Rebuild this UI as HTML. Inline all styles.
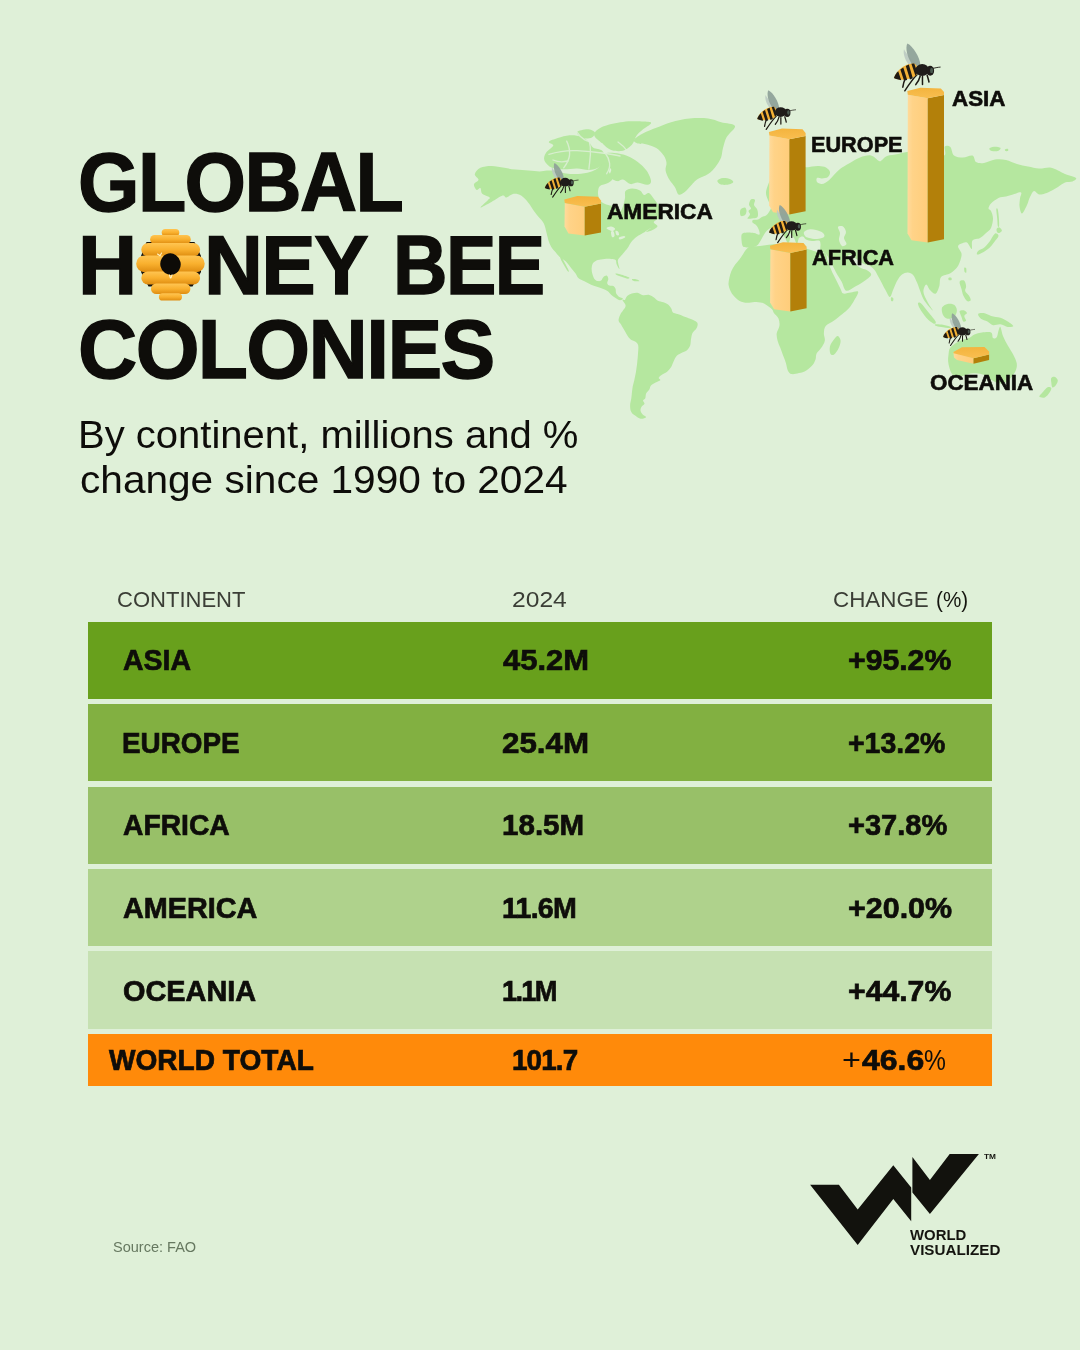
<!DOCTYPE html>
<html lang="en"><head><meta charset="utf-8"><title>Global Honey Bee Colonies</title>
<style>
html,body,h1,p{margin:0;padding:0;font-weight:normal;font-size:16px}
body{width:1080px;height:1350px;position:relative;overflow:hidden;background:#dff0d8;font-family:"Liberation Sans",Arial,sans-serif}
.t{position:absolute;white-space:nowrap;line-height:1;transform-origin:0 50%;display:block}
.row{position:absolute;left:88px;width:904px;height:77.2px}
svg.art{position:absolute;left:0;top:0}
</style></head><body>
<svg class="art" width="1080" height="1350" viewBox="0 0 1080 1350">
<g fill="#b5e79f">
<path d="M474.8,174.3C475.1,172.3 477.6,169.2 480.4,167.8C483.1,166.4 487.5,165.9 491.5,165.9C495.5,165.9 500.4,167.2 504.4,167.8C508.5,168.4 511.5,169.2 515.6,169.6C519.6,170.1 524.5,170.2 528.5,170.6C532.5,170.9 536.5,171.5 539.6,171.5C542.7,171.5 544.3,170.6 547.0,170.6C549.8,170.5 552.8,170.5 556.0,171.0C559.2,171.5 562.3,173.0 566.0,173.5C569.7,174.0 574.0,174.2 578.0,174.0C582.0,173.8 586.7,173.0 590.0,172.0C593.3,171.0 595.8,169.7 598.0,168.0C600.2,166.3 601.3,163.3 603.0,162.0C604.7,160.7 606.7,159.3 608.0,160.0C609.3,160.7 610.8,164.0 611.0,166.0C611.2,168.0 608.7,170.0 609.0,172.0C609.3,174.0 613.2,176.2 613.0,178.0C612.8,179.8 610.2,181.7 608.0,183.0C605.8,184.3 601.7,184.5 600.0,186.0C598.3,187.5 598.2,190.0 598.0,192.0C597.8,194.0 598.2,196.2 599.0,198.0C599.8,199.8 601.2,201.8 603.0,203.0C604.8,204.2 607.7,204.9 610.0,205.5C612.3,206.1 615.3,205.4 617.0,206.5C618.7,207.6 619.0,212.1 620.0,212.0C621.0,211.9 622.2,208.3 623.0,206.0C623.8,203.7 624.6,200.5 625.0,198.0C625.4,195.5 624.3,192.6 625.5,191.0C626.7,189.4 629.6,188.6 632.0,188.5C634.4,188.4 638.0,189.4 640.0,190.5C642.0,191.6 642.5,194.6 644.0,195.0C645.5,195.4 647.3,192.3 649.0,193.0C650.7,193.7 652.3,196.8 654.0,199.0C655.7,201.2 657.7,203.8 659.0,206.0C660.3,208.2 661.2,211.1 662.0,212.0C662.8,212.9 664.1,210.3 663.8,211.2C663.4,212.2 661.7,215.7 660.0,217.5C658.3,219.3 654.2,220.5 653.8,222.0C653.3,223.5 657.7,224.9 657.5,226.2C657.3,227.6 654.4,229.0 652.5,230.0C650.6,231.0 646.5,232.4 646.2,232.0C646.0,231.6 651.4,227.7 651.1,227.8C650.8,227.8 646.9,230.7 644.4,232.2C642.0,233.7 638.9,235.0 636.7,236.7C634.4,238.3 632.6,240.4 631.1,242.2C629.6,244.1 629.1,245.9 627.8,247.8C626.5,249.6 624.7,251.7 623.3,253.3C621.9,255.0 620.4,256.5 619.4,257.8C618.5,259.1 617.8,259.3 617.8,261.1C617.8,263.0 619.6,268.3 619.4,268.9C619.3,269.4 617.3,265.9 616.7,264.4C616.0,263.0 616.5,260.9 615.6,260.0C614.6,259.1 613.0,259.1 611.1,258.9C609.3,258.7 606.7,258.7 604.4,258.9C602.2,259.1 599.6,259.4 597.8,260.0C595.9,260.6 594.4,261.5 593.3,262.8C592.3,264.1 591.9,266.0 591.7,267.8C591.5,269.5 591.8,271.5 592.2,273.3C592.7,275.2 593.5,277.6 594.4,278.9C595.4,280.2 596.7,280.8 597.8,281.1C598.9,281.4 600.2,281.2 601.1,280.6C602.0,279.9 602.4,278.1 603.3,277.2C604.3,276.4 605.8,275.3 606.7,275.6C607.5,275.8 608.2,277.6 608.3,278.9C608.4,280.2 607.0,282.2 607.2,283.3C607.4,284.4 608.4,285.1 609.4,285.6C610.5,286.0 612.3,285.6 613.3,286.1C614.4,286.7 615.1,287.7 615.6,288.9C616.0,290.1 615.6,292.0 616.1,293.3C616.7,294.6 617.8,295.8 618.9,296.7C620.0,297.5 622.6,297.7 622.8,298.3C623.0,298.9 621.2,300.3 620.0,300.2C618.8,300.2 617.0,298.9 615.6,298.0C614.1,297.1 612.4,295.8 611.1,294.7C609.8,293.6 609.1,292.3 607.8,291.3C606.5,290.4 605.0,289.9 603.3,289.1C601.7,288.4 599.8,287.6 597.8,286.9C595.7,286.1 593.3,285.6 591.1,284.7C588.9,283.7 586.6,282.4 584.4,281.3C582.3,280.2 579.8,279.3 578.3,278.0C576.9,276.7 576.8,275.2 575.6,273.6C574.4,271.9 572.8,270.0 571.1,268.0C569.4,266.0 567.5,263.2 565.6,261.3C563.6,259.4 561.1,258.2 559.4,256.7C557.8,255.1 556.9,253.9 555.6,252.2C554.2,250.6 552.3,248.7 551.1,246.7C549.9,244.6 549.1,242.4 548.3,240.0C547.6,237.6 547.2,235.0 546.4,232.2C545.7,229.4 544.9,225.7 543.7,223.3C542.5,220.9 540.9,219.8 539.3,217.8C537.7,215.8 535.9,213.8 534.1,211.3C532.3,208.8 530.7,205.6 528.5,203.0C526.4,200.3 523.6,197.1 521.1,195.6C518.6,194.0 516.2,193.4 513.7,193.7C511.2,194.0 508.1,197.1 506.3,197.4C504.4,197.7 505.1,194.8 502.6,195.6C500.1,196.3 495.2,200.0 491.5,202.0C487.8,204.0 481.0,207.9 480.4,207.6C479.8,207.3 486.2,201.9 487.8,200.2C489.3,198.5 490.6,198.5 489.6,197.4C488.7,196.3 483.8,195.2 482.2,193.7C480.7,192.2 481.3,188.8 480.4,188.1C479.4,187.5 477.7,190.6 476.7,190.0C475.6,189.4 473.6,186.1 473.9,184.4C474.2,182.7 478.4,181.5 478.5,179.8C478.7,178.1 474.5,176.3 474.8,174.3Z"/>
<path d="M560.3,256.9C560.6,256.7 561.4,257.3 562.2,258.3C563.0,259.4 563.9,261.3 565.0,263.3C566.1,265.4 568.2,269.2 568.7,270.6C569.1,271.9 568.6,272.3 567.8,271.3C567.0,270.4 565.0,267.0 563.9,265.0C562.7,263.0 561.5,260.8 560.9,259.4C560.3,258.1 560.1,257.1 560.3,256.9Z"/>
<path d="M544.4,160.4C543.5,157.9 544.4,155.4 545.9,153.0C547.4,150.5 552.8,147.4 553.3,145.6C553.8,143.7 548.1,143.1 548.9,141.9C549.6,140.6 554.3,139.3 557.8,138.1C561.2,137.0 565.7,135.4 569.6,135.2C573.6,134.9 578.3,135.6 581.5,136.7C584.7,137.8 586.9,140.0 588.9,141.9C590.9,143.7 591.1,146.3 593.3,147.8C595.6,149.3 600.2,148.9 602.2,150.7C604.2,152.6 605.7,156.2 605.2,158.9C604.7,161.6 602.0,165.2 599.3,167.0C596.5,168.9 592.6,169.8 588.9,170.0C585.2,170.2 581.2,168.6 577.0,168.5C572.8,168.4 567.9,169.4 563.7,169.3C559.5,169.1 555.1,169.3 551.9,167.8C548.6,166.3 545.4,162.8 544.4,160.4Z"/>
<path d="M577.0,132.2C577.8,130.7 584.4,129.3 587.4,129.3C590.4,129.3 594.1,130.9 594.8,132.2C595.6,133.6 593.8,136.4 591.9,137.4C589.9,138.4 585.4,139.0 583.0,138.1C580.5,137.3 576.3,133.7 577.0,132.2Z"/>
<path d="M594.1,134.4C594.3,131.6 598.9,128.4 603.7,126.3C608.5,124.2 616.3,122.6 623.0,121.9C629.6,121.1 639.0,121.3 643.7,121.6C648.4,121.8 651.4,121.9 651.1,123.3C650.9,124.7 644.7,127.9 642.2,130.0C639.8,132.1 638.0,133.5 636.3,135.9C634.6,138.4 634.1,142.3 631.9,144.8C629.6,147.3 626.4,149.9 623.0,150.7C619.5,151.6 614.6,151.2 611.1,150.0C607.7,148.8 605.1,145.9 602.2,143.3C599.4,140.7 593.8,137.3 594.1,134.4Z"/>
<path d="M603.7,154.4C605.2,152.7 610.1,152.7 614.1,153.0C618.0,153.2 623.5,154.4 627.4,155.9C631.4,157.4 634.6,159.4 637.8,161.9C641.0,164.3 644.4,167.5 646.7,170.7C648.9,174.0 651.0,178.8 651.1,181.1C651.2,183.5 649.6,184.6 647.4,184.8C645.2,185.1 640.6,182.7 637.8,182.6C634.9,182.5 632.8,184.6 630.4,184.1C627.9,183.6 625.2,180.1 623.0,179.6C620.7,179.1 619.3,181.6 617.0,181.1C614.8,180.6 610.6,178.6 609.6,176.7C608.6,174.7 611.9,171.5 611.1,169.3C610.4,167.0 606.4,165.8 605.2,163.3C604.0,160.9 602.2,156.2 603.7,154.4Z"/>
<path d="M634.1,139.8C635.0,138.1 639.6,135.3 643.3,133.3C647.0,131.3 651.7,129.6 656.3,127.8C660.9,125.9 665.6,123.8 671.1,122.2C676.7,120.7 683.5,119.1 689.6,118.5C695.8,117.9 702.9,117.9 708.1,118.5C713.4,119.1 716.6,121.0 721.1,122.2C725.6,123.5 734.1,123.5 735.0,125.9C735.9,128.4 728.7,133.3 726.7,137.0C724.7,140.7 723.9,144.8 723.0,148.1C722.0,151.5 722.3,154.3 721.1,157.4C719.9,160.5 717.7,163.9 715.6,166.7C713.4,169.4 711.2,171.9 708.1,174.1C705.1,176.2 700.1,177.5 697.0,179.6C694.0,181.8 691.8,184.9 689.6,187.0C687.5,189.2 685.9,191.4 684.1,192.6C682.2,193.8 680.1,195.4 678.5,194.4C677.0,193.5 676.4,189.5 674.8,187.0C673.3,184.6 670.8,182.4 669.3,179.6C667.7,176.9 666.0,173.1 665.6,170.4C665.1,167.6 666.8,165.4 666.5,163.0C666.2,160.5 665.4,158.0 663.7,155.6C662.0,153.1 659.1,150.0 656.3,148.1C653.5,146.3 650.1,145.2 647.0,144.4C644.0,143.7 639.9,144.3 637.8,143.5C635.6,142.7 633.1,141.5 634.1,139.8Z"/>
<path d="M717.4,180.6C717.9,179.5 720.8,178.4 723.0,178.1C725.1,177.9 728.7,178.5 730.4,179.3C732.1,180.0 733.8,181.5 733.1,182.4C732.5,183.3 728.8,184.5 726.7,184.8C724.5,185.1 721.7,185.0 720.2,184.3C718.6,183.5 716.9,181.6 717.4,180.6Z"/>
<path d="M615.6,273.6C616.1,273.4 618.3,273.8 620.0,274.2C621.7,274.6 624.0,275.5 625.6,276.1C627.1,276.7 629.1,277.4 629.4,277.8C629.8,278.2 629.0,278.8 627.8,278.7C626.6,278.5 624.1,277.5 622.2,276.9C620.4,276.3 617.8,275.6 616.7,275.0C615.6,274.4 615.0,273.7 615.6,273.6Z"/>
<path d="M632.2,279.1C632.9,278.9 635.5,279.1 636.7,279.4C637.9,279.7 639.6,280.6 639.4,280.9C639.3,281.2 636.7,281.4 635.6,281.3C634.4,281.3 633.3,280.9 632.8,280.6C632.2,280.2 631.6,279.3 632.2,279.1Z"/>
<path d="M622.5,299.9C622.4,299.0 624.1,300.6 624.9,299.9C625.6,299.3 626.0,297.0 627.2,296.0C628.4,294.9 630.2,294.1 631.9,293.6C633.6,293.1 635.6,292.6 637.5,292.8C639.3,293.1 641.0,294.8 643.0,295.2C644.9,295.5 647.4,294.5 649.3,294.9C651.1,295.3 652.5,296.6 654.0,297.5C655.4,298.5 656.3,299.9 657.9,300.7C659.5,301.5 661.7,301.6 663.4,302.3C665.1,302.9 666.8,303.6 668.1,304.6C669.5,305.7 670.5,307.3 671.3,308.6C672.1,309.9 671.8,311.6 672.9,312.5C673.9,313.4 675.8,313.4 677.6,314.1C679.4,314.7 681.8,315.6 683.9,316.4C686.0,317.2 688.0,317.7 690.2,318.8C692.4,319.8 696.2,321.2 697.3,322.7C698.3,324.3 697.3,326.5 696.5,328.2C695.7,329.9 693.5,331.1 692.5,333.0C691.6,334.8 691.4,337.2 691.0,339.3C690.6,341.4 690.8,343.7 690.2,345.6C689.5,347.4 688.3,349.1 687.0,350.3C685.7,351.5 684.0,351.7 682.3,352.6C680.6,353.6 678.2,354.3 676.8,355.8C675.4,357.2 674.6,359.5 673.7,361.3C672.7,363.1 672.3,365.1 671.3,366.8C670.2,368.5 668.9,370.2 667.4,371.5C665.8,372.8 663.3,373.6 661.9,374.7C660.4,375.7 659.0,376.9 658.7,377.8C658.4,378.7 660.8,379.4 660.3,380.2C659.8,381.0 657.1,381.6 655.6,382.5C654.0,383.5 651.9,384.5 650.8,385.7C649.8,386.9 650.0,388.3 649.3,389.6C648.5,390.9 646.8,392.1 646.1,393.6C645.5,395.0 645.8,397.1 645.3,398.3C644.8,399.5 643.1,399.7 643.0,400.6C642.8,401.6 644.8,402.7 644.5,403.8C644.3,404.8 642.0,405.8 641.4,406.9C640.7,408.1 640.3,409.6 640.6,410.9C640.9,412.2 642.0,413.8 643.0,414.8C643.9,415.9 646.5,416.5 646.1,417.2C645.7,417.8 642.4,419.0 640.6,418.7C638.8,418.5 636.7,416.8 635.1,415.6C633.5,414.4 632.0,413.4 631.2,411.7C630.3,410.0 630.1,407.5 630.1,405.4C630.1,403.3 630.8,401.2 631.2,399.1C631.5,397.0 631.7,394.9 631.9,392.8C632.2,390.7 632.3,388.6 632.7,386.5C633.1,384.4 633.8,382.5 634.3,380.2C634.8,377.8 635.4,374.9 635.9,372.3C636.3,369.7 636.6,367.3 637.0,364.4C637.3,361.6 637.7,358.1 637.9,355.0C638.1,351.9 638.7,347.8 638.2,345.6C637.8,343.3 636.4,342.7 635.1,341.6C633.8,340.6 631.7,340.3 630.4,339.3C629.1,338.2 628.3,336.9 627.2,335.3C626.2,333.7 625.1,331.7 624.1,329.8C623.0,328.0 621.8,325.9 620.9,324.3C620.0,322.7 618.7,321.9 618.6,320.4C618.4,318.8 619.4,316.6 620.1,314.9C620.9,313.2 622.4,311.7 623.3,310.1C624.2,308.6 625.8,307.1 625.6,305.4C625.5,303.7 622.6,300.8 622.5,299.9Z"/>
<path d="M748.0,247.8C750.1,246.5 753.7,246.7 756.3,246.3C758.9,245.9 761.2,245.7 763.7,245.4C766.2,245.1 767.7,244.7 771.1,244.4C774.5,244.2 779.8,243.9 784.1,244.1C788.4,244.2 793.3,244.6 797.0,245.4C800.7,246.1 803.5,247.6 806.3,248.5C809.1,249.4 811.2,250.2 813.7,250.9C816.2,251.6 819.1,252.3 821.1,252.8C823.1,253.2 824.7,252.3 825.7,253.7C826.8,255.1 826.5,258.0 827.6,261.1C828.7,264.2 830.7,268.8 832.2,272.2C833.8,275.6 835.5,278.7 836.9,281.5C838.2,284.3 839.5,286.9 840.6,288.9C841.6,290.9 841.6,292.9 843.3,293.5C845.0,294.1 848.3,292.9 850.7,292.6C853.2,292.3 857.5,290.4 858.1,291.7C858.8,292.9 856.0,297.2 854.4,300.0C852.9,302.8 850.9,306.0 848.9,308.3C846.9,310.6 844.9,311.9 842.4,313.9C839.9,315.9 836.9,318.4 834.1,320.4C831.3,322.4 827.4,323.8 825.7,325.9C824.0,328.1 824.0,330.9 823.9,333.3C823.7,335.8 825.3,338.3 824.8,340.7C824.4,343.2 822.5,346.0 821.1,348.1C819.7,350.3 817.4,351.9 816.5,353.7C815.6,355.6 816.2,357.4 815.6,359.3C814.9,361.1 814.3,363.0 812.8,364.8C811.2,366.7 808.6,369.0 806.3,370.4C804.0,371.8 801.4,372.5 798.9,373.1C796.4,373.8 793.3,374.5 791.5,374.1C789.6,373.6 788.7,372.2 787.8,370.4C786.9,368.5 786.7,365.4 785.9,363.0C785.2,360.5 784.1,358.0 783.1,355.6C782.2,353.1 781.3,350.6 780.4,348.1C779.4,345.7 778.2,343.2 777.6,340.7C777.0,338.3 776.4,335.8 776.7,333.3C777.0,330.9 779.1,328.4 779.4,325.9C779.8,323.5 779.4,320.7 778.5,318.5C777.6,316.4 775.0,314.5 773.9,313.0C772.8,311.4 773.4,310.6 772.0,309.3C770.6,307.9 767.3,305.7 765.6,304.6C763.9,303.5 763.7,303.2 761.9,302.8C760.0,302.3 756.9,301.9 754.4,301.9C752.0,301.9 749.5,302.9 747.0,302.8C744.6,302.6 741.8,302.0 739.6,300.9C737.5,299.8 735.6,298.0 734.1,296.3C732.5,294.6 731.3,292.7 730.4,290.7C729.4,288.7 728.7,286.4 728.5,284.3C728.4,282.1 729.0,279.9 729.4,277.8C729.9,275.6 730.4,273.5 731.3,271.3C732.2,269.1 733.6,266.8 735.0,264.8C736.4,262.8 738.2,261.1 739.6,259.3C741.0,257.4 741.9,255.6 743.3,253.7C744.7,251.8 745.8,249.0 748.0,247.8Z"/>
<path d="M837.8,336.1C838.9,336.3 840.4,338.7 840.6,340.7C840.7,342.7 839.8,345.8 838.7,348.1C837.6,350.5 835.5,353.7 834.1,354.6C832.7,355.6 831.0,355.1 830.4,353.7C829.7,352.3 829.4,348.6 830.0,346.3C830.6,344.0 832.4,341.5 833.7,339.8C835.0,338.1 836.6,336.0 837.8,336.1Z"/>
<path d="M748.0,247.5C746.7,247.2 744.1,247.8 743.0,246.5C741.9,245.2 741.7,242.1 741.5,240.0C741.3,237.9 741.1,235.2 742.0,234.0C742.9,232.8 745.0,232.7 747.0,232.5C749.0,232.3 751.9,232.7 754.0,233.0C756.1,233.3 758.8,235.2 759.5,234.5C760.2,233.8 759.1,230.6 758.5,229.0C757.9,227.4 757.0,226.1 756.0,225.0C755.0,223.9 753.0,223.3 752.5,222.5C752.0,221.7 752.1,220.5 753.0,220.0C753.9,219.5 756.5,220.0 758.0,219.5C759.5,219.0 760.7,217.7 762.0,217.0C763.3,216.3 764.8,216.3 766.0,215.5C767.2,214.7 768.2,213.2 769.0,212.0C769.8,210.8 770.8,209.3 771.0,208.0C771.2,206.7 770.5,205.3 770.0,204.0C769.5,202.7 768.7,201.8 768.0,200.0C767.3,198.2 766.0,195.5 766.0,193.0C766.0,190.5 766.8,188.0 768.0,185.0C769.2,182.0 770.8,178.2 773.0,175.0C775.2,171.8 778.2,168.3 781.0,166.0C783.8,163.7 787.0,161.7 790.0,161.0C793.0,160.3 796.5,161.0 799.0,162.0C801.5,163.0 802.8,166.2 805.0,167.0C807.2,167.8 809.7,166.7 812.0,166.5C814.3,166.3 816.7,165.8 819.0,166.0C821.3,166.2 824.2,166.5 826.0,167.5C827.8,168.5 829.7,170.4 830.0,172.0C830.3,173.6 829.3,175.9 828.0,177.0C826.7,178.1 823.8,178.3 822.0,178.5C820.2,178.7 817.8,177.4 817.0,178.0C816.2,178.6 816.2,181.0 817.0,182.0C817.8,183.0 820.2,184.2 822.0,184.0C823.8,183.8 826.2,182.3 828.0,181.0C829.8,179.7 831.0,178.0 833.0,176.0C835.0,174.0 837.3,171.1 840.0,169.0C842.7,166.9 845.7,165.4 849.0,163.5C852.3,161.6 856.3,158.8 860.0,157.5C863.7,156.2 867.8,154.9 871.0,155.5C874.2,156.1 877.2,160.2 879.0,161.0C880.8,161.8 880.7,160.8 882.0,160.0C883.3,159.2 884.3,157.0 887.0,156.0C889.7,155.0 894.7,154.7 898.0,154.0C901.3,153.3 902.3,152.7 907.0,152.0C911.7,151.3 919.8,149.4 926.0,150.0C932.2,150.6 940.9,156.1 944.0,155.5C947.1,154.9 943.7,147.9 944.8,146.5C945.9,145.1 948.9,145.5 950.4,147.0C951.9,148.5 951.9,153.8 954.0,155.5C956.1,157.2 959.9,157.5 963.0,157.5C966.1,157.5 970.3,154.8 972.5,155.5C974.7,156.2 974.1,160.8 976.0,162.0C977.9,163.2 980.8,163.4 984.0,163.0C987.2,162.6 991.3,160.0 995.0,159.5C998.7,159.0 1002.3,159.2 1006.0,160.0C1009.7,160.8 1013.3,162.9 1017.0,164.0C1020.7,165.1 1024.3,165.8 1028.0,166.5C1031.7,167.2 1035.3,168.3 1039.0,168.5C1042.7,168.7 1046.8,167.2 1050.0,167.5C1053.2,167.8 1055.5,169.4 1058.0,170.5C1060.5,171.6 1062.0,172.8 1065.0,174.0C1068.0,175.2 1074.8,176.8 1076.0,178.0C1077.2,179.2 1074.3,180.8 1072.5,181.5C1070.7,182.2 1067.4,181.6 1065.0,182.5C1062.6,183.4 1060.2,185.7 1058.0,187.0C1055.8,188.3 1054.2,189.4 1052.0,190.5C1049.8,191.6 1047.2,192.8 1045.0,193.5C1042.8,194.2 1040.8,194.9 1039.0,194.5C1037.2,194.1 1035.5,190.6 1034.0,191.0C1032.5,191.4 1031.2,194.7 1030.0,197.0C1028.8,199.3 1028.3,202.2 1027.0,205.0C1025.7,207.8 1023.2,213.3 1022.0,213.5C1020.8,213.7 1019.8,208.5 1019.5,206.0C1019.2,203.5 1019.8,200.8 1020.0,198.5C1020.2,196.2 1022.2,193.2 1021.0,192.5C1019.8,191.8 1015.5,193.8 1013.0,194.5C1010.5,195.2 1008.4,195.9 1006.0,196.5C1003.6,197.1 1001.0,196.8 998.5,198.0C996.0,199.2 992.7,201.8 991.0,203.5C989.3,205.2 988.5,207.2 988.5,208.5C988.5,209.8 990.2,209.3 991.0,211.0C991.8,212.7 993.0,215.7 993.0,218.5C993.0,221.3 992.2,225.5 991.0,228.0C989.8,230.5 987.3,231.8 985.5,233.5C983.7,235.2 982.2,236.8 980.0,238.0C977.8,239.2 973.9,238.7 972.5,240.5C971.1,242.3 972.6,248.7 971.7,249.0C970.8,249.3 968.7,243.4 967.0,242.5C965.3,241.6 963.0,242.8 961.5,243.5C960.0,244.2 958.0,244.8 958.0,246.5C958.0,248.2 961.1,251.2 961.5,253.5C961.9,255.8 961.2,257.7 960.5,260.0C959.8,262.3 958.7,265.3 957.0,267.5C955.3,269.7 953.0,271.7 950.4,273.3C947.8,274.9 943.0,274.8 941.1,277.0C939.2,279.2 940.2,283.5 939.3,286.3C938.4,289.1 937.1,293.1 935.6,293.7C934.1,294.3 931.5,291.6 930.0,290.0C928.5,288.4 927.4,284.4 926.3,284.4C925.2,284.4 923.8,288.1 923.5,290.0C923.2,291.9 923.6,293.4 924.4,295.6C925.2,297.8 926.7,300.5 928.1,303.0C929.5,305.5 932.6,309.8 932.8,310.4C933.0,311.0 930.6,308.5 929.1,306.7C927.6,304.9 925.0,302.1 923.5,299.3C922.0,296.5 920.9,292.8 919.8,290.0C918.7,287.2 918.1,285.1 917.0,282.6C915.9,280.1 914.8,276.9 913.3,275.2C911.8,273.5 909.7,272.6 907.8,272.5C905.9,272.4 903.8,273.1 902.0,274.5C900.2,275.9 898.4,278.6 897.0,281.0C895.6,283.4 894.7,286.3 893.5,289.0C892.3,291.7 891.2,296.5 890.0,297.0C888.8,297.5 887.8,294.2 886.5,292.0C885.2,289.8 883.4,286.2 882.0,283.5C880.6,280.8 879.2,278.2 878.0,276.0C876.8,273.8 876.1,272.1 875.0,270.5C873.9,268.9 872.4,267.6 871.1,266.7C869.8,265.8 868.8,265.5 867.4,265.0C866.0,264.5 864.7,264.4 863.0,263.5C861.3,262.6 859.0,260.9 857.0,259.5C855.0,258.1 852.5,255.6 851.0,255.0C849.5,254.4 848.0,255.0 848.0,256.0C848.0,257.0 849.5,259.4 851.0,261.0C852.5,262.6 855.2,264.2 857.0,265.5C858.8,266.8 860.3,267.7 862.0,268.5C863.7,269.3 865.9,269.3 867.4,270.4C868.9,271.5 871.7,273.1 871.1,275.0C870.5,276.9 866.5,279.5 863.7,281.5C860.9,283.5 857.3,285.5 854.4,287.0C851.5,288.5 848.2,291.6 846.1,290.7C844.0,289.8 843.2,284.6 841.5,281.5C839.8,278.4 837.8,275.6 835.9,272.2C834.0,268.8 832.1,264.2 830.4,261.1C828.7,258.0 827.4,255.4 825.7,253.7C824.1,252.0 821.4,252.6 820.5,251.0C819.6,249.4 820.8,245.8 820.5,244.0C820.2,242.2 820.4,241.0 819.0,240.5C817.6,240.0 814.2,241.2 812.0,241.0C809.8,240.8 807.5,240.2 806.0,239.5C804.5,238.8 804.2,236.8 803.0,236.5C801.8,236.2 800.0,236.8 799.0,238.0C798.0,239.2 797.8,244.0 797.0,244.0C796.2,244.0 795.2,239.8 794.0,238.0C792.8,236.2 791.3,234.3 790.0,233.0C788.7,231.7 786.0,229.3 786.0,230.0C786.0,230.7 789.7,234.8 790.0,237.0C790.3,239.2 789.0,243.2 788.0,243.0C787.0,242.8 785.5,238.2 784.0,236.0C782.5,233.8 780.7,231.5 779.0,230.0C777.3,228.5 775.7,227.2 774.0,227.0C772.3,226.8 770.5,228.0 769.0,229.0C767.5,230.0 766.3,231.2 765.0,233.0C763.7,234.8 762.3,237.9 761.0,240.0C759.7,242.1 758.7,244.2 757.0,245.5C755.3,246.8 752.5,247.7 751.0,248.0C749.5,248.3 749.3,247.8 748.0,247.5Z"/>
<path d="M751.0,199.5C752.0,198.8 754.5,199.1 755.0,200.0C755.5,200.9 753.7,203.5 754.0,205.0C754.3,206.5 756.3,207.5 757.0,209.0C757.7,210.5 758.0,212.6 758.0,214.0C758.0,215.4 758.0,216.8 757.0,217.5C756.0,218.2 753.6,218.3 752.0,218.5C750.4,218.7 747.8,219.2 747.5,218.5C747.2,217.8 749.8,215.8 750.0,214.5C750.2,213.2 748.3,212.0 748.5,211.0C748.7,210.0 750.9,209.6 751.0,208.5C751.1,207.4 749.0,206.0 749.0,204.5C749.0,203.0 750.0,200.2 751.0,199.5Z"/>
<path d="M741.0,209.0C741.8,208.2 744.1,207.2 745.0,207.5C745.9,207.8 746.5,209.8 746.5,211.0C746.5,212.2 745.9,214.2 745.0,215.0C744.1,215.8 741.8,216.4 741.0,216.0C740.2,215.6 740.0,213.7 740.0,212.5C740.0,211.3 740.2,209.8 741.0,209.0Z"/>
<path d="M995.7,233.3C996.7,233.3 998.8,234.6 998.5,236.1C998.2,237.7 995.4,240.6 993.9,242.6C992.3,244.6 991.0,246.6 989.3,248.1C987.6,249.7 985.7,250.8 983.7,251.9C981.7,252.9 978.1,254.8 977.2,254.6C976.3,254.5 976.9,252.2 978.1,250.9C979.4,249.7 982.6,248.9 984.6,247.2C986.6,245.5 988.8,242.6 990.2,240.7C991.6,238.9 992.0,237.3 993.0,236.1C993.9,234.9 994.8,233.3 995.7,233.3Z"/>
<path d="M996.7,228.7C997.1,228.0 998.6,227.1 999.4,227.4C1000.3,227.7 1001.9,229.6 1001.9,230.6C1001.9,231.5 1000.2,232.7 999.4,233.0C998.6,233.2 997.5,232.6 997.0,231.9C996.6,231.1 996.3,229.4 996.7,228.7Z"/>
<path d="M996.3,209.3C996.4,207.8 997.3,208.1 997.8,209.6C998.2,211.2 998.7,215.8 998.9,218.5C999.1,221.2 999.3,224.7 999.1,225.9C998.9,227.2 998.1,227.2 997.8,225.9C997.5,224.7 997.5,221.3 997.2,218.5C997.0,215.7 996.2,210.7 996.3,209.3Z"/>
<path d="M918.0,303.0C918.3,302.2 919.8,302.2 921.7,303.9C923.5,305.6 926.8,310.2 929.1,313.1C931.4,316.1 934.8,319.7 935.6,321.5C936.3,323.2 935.2,324.3 933.7,323.7C932.2,323.1 928.6,320.3 926.3,317.8C924.0,315.2 921.2,311.0 919.8,308.5C918.4,306.0 917.7,303.7 918.0,303.0Z"/>
<path d="M935.6,324.3C936.8,324.1 940.5,324.4 943.0,324.8C945.4,325.2 949.3,326.1 950.4,326.7C951.5,327.2 951.0,327.9 949.4,328.0C947.9,328.0 943.4,327.4 941.1,327.0C938.8,326.7 936.5,326.2 935.6,325.7C934.6,325.3 934.3,324.4 935.6,324.3Z"/>
<path d="M942.0,307.6C942.8,305.7 945.6,304.4 947.6,303.9C949.6,303.4 952.5,303.7 954.1,304.8C955.6,305.9 956.9,308.4 956.9,310.4C956.9,312.4 955.6,315.5 954.1,316.9C952.5,318.2 949.4,319.0 947.6,318.7C945.7,318.4 943.9,316.9 943.0,315.0C942.0,313.1 941.3,309.4 942.0,307.6Z"/>
<path d="M959.6,311.3C960.1,310.2 963.0,310.1 964.3,310.4C965.5,310.7 967.0,312.2 967.0,313.1C967.0,314.1 964.4,314.7 964.3,315.9C964.1,317.2 966.3,319.6 966.1,320.6C966.0,321.5 964.1,322.1 963.3,321.5C962.6,320.9 962.1,318.5 961.5,316.9C960.9,315.2 959.2,312.4 959.6,311.3Z"/>
<path d="M959.6,281.7C960.1,280.3 963.2,280.0 964.3,280.7C965.3,281.5 966.0,284.6 966.1,286.3C966.3,288.0 964.7,289.4 965.2,290.9C965.6,292.5 968.0,294.0 968.9,295.6C969.8,297.1 971.0,299.3 970.7,300.2C970.4,301.1 968.3,301.9 967.0,301.1C965.8,300.3 964.3,297.6 963.3,295.6C962.4,293.5 962.1,291.4 961.5,289.1C960.9,286.8 959.2,283.1 959.6,281.7Z"/>
<path d="M978.1,314.1C978.6,313.1 981.5,312.8 983.7,313.1C985.9,313.5 988.3,315.2 991.1,315.9C993.9,316.7 997.6,316.9 1000.4,317.8C1003.1,318.7 1005.6,320.1 1007.8,321.5C1009.9,322.9 1013.3,325.2 1013.3,326.1C1013.3,327.0 1009.9,327.3 1007.8,327.0C1005.6,326.7 1002.8,324.6 1000.4,324.3C997.9,324.0 995.1,325.6 993.0,325.2C990.8,324.7 989.4,322.6 987.4,321.5C985.4,320.4 982.5,319.9 980.9,318.7C979.4,317.5 977.7,315.0 978.1,314.1Z"/>
<path d="M948.5,354.8C948.9,352.5 948.5,349.7 950.4,347.4C952.2,345.1 956.5,342.5 959.6,340.9C962.7,339.4 966.4,339.2 968.9,338.1C971.4,337.1 972.3,335.4 974.4,334.4C976.6,333.5 979.1,332.9 981.9,332.6C984.6,332.3 989.3,331.7 991.1,332.6C993.0,333.5 992.0,337.4 993.0,338.1C993.9,338.9 995.7,338.5 996.7,337.2C997.6,336.0 997.9,332.4 998.5,330.7C999.1,329.0 999.6,326.1 1000.4,327.0C1001.1,328.0 1001.9,333.2 1003.1,336.3C1004.4,339.4 1006.1,342.5 1007.8,345.6C1009.5,348.6 1011.9,351.9 1013.3,354.8C1014.8,357.7 1016.2,360.7 1016.7,363.1C1017.1,365.6 1016.8,367.5 1016.1,369.6C1015.4,371.8 1013.8,374.3 1012.4,376.1C1011.0,378.0 1009.5,379.5 1007.8,380.7C1006.1,382.0 1004.1,383.2 1002.2,383.5C1000.4,383.8 998.5,383.2 996.7,382.6C994.8,382.0 992.7,380.7 991.1,379.8C989.6,378.9 989.0,378.0 987.4,377.0C985.9,376.1 984.3,374.9 981.9,374.3C979.4,373.6 975.4,373.2 972.6,373.3C969.8,373.5 967.7,374.6 965.2,375.2C962.7,375.8 959.9,377.2 957.8,377.0C955.6,376.9 953.6,375.8 952.2,374.3C950.8,372.7 950.1,369.9 949.4,367.8C948.8,365.6 948.3,363.5 948.1,361.3C948.0,359.1 948.1,357.1 948.5,354.8Z"/>
<path d="M1051.3,378.0C1051.9,377.0 1053.9,376.6 1055.0,377.0C1056.1,377.5 1057.8,379.2 1057.8,380.7C1057.8,382.3 1055.9,385.2 1055.0,386.3C1054.1,387.4 1052.8,387.8 1052.2,387.2C1051.6,386.6 1051.5,384.1 1051.3,382.6C1051.1,381.0 1050.7,378.9 1051.3,378.0Z"/>
<path d="M1039.3,396.5C1039.0,395.6 1041.6,393.4 1043.0,391.9C1044.4,390.3 1046.2,387.8 1047.6,387.2C1049.0,386.6 1051.0,387.2 1051.3,388.1C1051.6,389.1 1050.5,391.2 1049.4,392.8C1048.4,394.3 1046.5,396.8 1044.8,397.4C1043.1,398.0 1039.6,397.4 1039.3,396.5Z"/>
<path d="M891.1,297.4C891.5,297.0 893.0,297.7 893.3,298.3C893.6,299.0 893.3,300.7 893.0,301.1C892.6,301.5 891.4,301.4 891.1,300.7C890.8,300.1 890.7,297.8 891.1,297.4Z"/>
<path d="M964.3,267.8C964.5,267.2 965.8,267.4 966.1,268.1C966.5,268.9 966.5,271.8 966.3,272.4C966.0,273.0 965.0,272.6 964.6,271.9C964.3,271.1 964.0,268.4 964.3,267.8Z"/>
<path d="M948.5,278.0C948.9,277.6 950.8,277.4 951.3,277.8C951.8,278.1 951.9,279.6 951.5,280.0C951.1,280.4 949.4,280.5 948.9,280.2C948.4,279.8 948.1,278.4 948.5,278.0Z"/>
<path d="M989.3,148.5C989.6,147.8 992.0,146.8 993.9,146.7C995.7,146.5 999.6,147.1 1000.4,147.8C1001.1,148.5 999.9,150.2 998.5,150.7C997.1,151.3 993.6,151.5 992.0,151.1C990.5,150.7 989.0,149.3 989.3,148.5Z"/>
<path d="M1005.0,149.3C1005.4,148.9 1007.3,148.5 1007.8,148.7C1008.3,149.0 1008.5,150.3 1008.1,150.7C1007.8,151.1 1006.1,151.4 1005.6,151.1C1005.0,150.9 1004.6,149.7 1005.0,149.3Z"/>
</g><g fill="#dff0d8">
<path d="M606.5,228.0C606.8,227.4 609.6,226.4 611.0,226.5C612.4,226.6 614.7,227.8 615.0,228.5C615.3,229.2 614.0,230.8 613.0,231.0C612.0,231.2 610.1,230.5 609.0,230.0C607.9,229.5 606.2,228.6 606.5,228.0Z"/>
<path d="M611.0,232.0C611.2,231.1 612.9,230.8 613.5,231.5C614.1,232.2 614.8,235.1 614.5,236.0C614.2,236.9 612.6,237.7 612.0,237.0C611.4,236.3 610.8,232.9 611.0,232.0Z"/>
<path d="M615.5,231.0C615.8,230.4 617.4,230.8 618.0,231.5C618.6,232.2 619.2,234.4 619.0,235.0C618.8,235.6 617.1,235.7 616.5,235.0C615.9,234.3 615.2,231.6 615.5,231.0Z"/>
<path d="M619.0,237.5C619.7,236.9 623.0,236.0 624.0,236.0C625.0,236.0 625.7,236.9 625.0,237.5C624.3,238.1 621.0,239.5 620.0,239.5C619.0,239.5 618.3,238.1 619.0,237.5Z"/>
<path d="M804.0,232.0C804.7,230.9 807.0,229.8 809.0,229.5C811.0,229.2 813.7,229.4 816.0,230.0C818.3,230.6 821.7,231.8 823.0,233.0C824.3,234.2 825.0,236.0 824.0,237.0C823.0,238.0 819.5,238.8 817.0,239.0C814.5,239.2 811.0,238.5 809.0,238.0C807.0,237.5 805.8,237.0 805.0,236.0C804.2,235.0 803.3,233.1 804.0,232.0Z"/>
<path d="M838.0,227.0C838.5,225.9 841.7,225.7 843.0,226.5C844.3,227.3 845.8,230.1 846.0,232.0C846.2,233.9 843.9,236.0 844.0,238.0C844.1,240.0 846.8,242.7 846.5,244.0C846.2,245.3 843.2,246.7 842.0,246.0C840.8,245.3 839.3,242.2 839.0,240.0C838.7,237.8 840.2,235.2 840.0,233.0C839.8,230.8 837.5,228.1 838.0,227.0Z"/>
</g>
<g fill="none" stroke="#dff0d8" stroke-width="1.3" stroke-linecap="round" opacity=".85"><path d="M548.9,154.4 Q563,150 577,150.7 T602.2,153 T620,156"/><path d="M588.9,139.6 Q591,147 590.4,154.4 T588.9,169"/><path d="M566.7,141.1 Q570,148 569.6,154.4 T563.7,167.8"/><path d="M605.2,153 Q609,158 609.6,163.3 T606.7,173.7"/><path d="M577,132.2 Q580,137 584.4,139.6 T602.2,144.1"/><path d="M553,160 Q560,163 568,161"/><path d="M618,142 Q624,146 628,152"/></g>
<defs><linearGradient id="lg" x1="0" y1="0" x2="1" y2="0"><stop offset="0" stop-color="#ffdb9c"/><stop offset=".25" stop-color="#ffd388"/><stop offset="1" stop-color="#ffcd7b"/></linearGradient>
<linearGradient id="tg" x1="0" y1="0" x2="0" y2="1"><stop offset="0" stop-color="#f3b43e"/><stop offset="1" stop-color="#f9be50"/></linearGradient></defs>
<polygon points="907.8,94.7 927.7,98.3 927.7,242.5 911.5,240.3 907.5,233.5" fill="url(#lg)"/>
<polygon points="927.7,98.3 944.0,95.0 944.0,239.3 927.7,242.5" fill="#b3800a"/>
<polygon points="907.3,91.1 920.4,87.7 940.9,88.4 944.0,92.1 944.0,95.0 927.7,98.3 907.8,94.7" fill="url(#tg)"/>
<polygon points="769.4,135.6 789.3,139.2 789.3,214.4 773.1,212.2 769.1,205.4" fill="url(#lg)"/>
<polygon points="789.3,139.2 805.6,135.9 805.6,211.2 789.3,214.4" fill="#b3800a"/>
<polygon points="768.9,132.0 782.0,128.6 802.5,129.3 805.6,133.0 805.6,135.9 789.3,139.2 769.4,135.6" fill="url(#tg)"/>
<polygon points="564.8,203.1 584.7,206.7 584.7,235.6 568.5,233.4 564.5,226.6" fill="url(#lg)"/>
<polygon points="584.7,206.7 601.0,203.4 601.0,232.4 584.7,235.6" fill="#b3800a"/>
<polygon points="564.3,199.5 577.4,196.1 597.9,196.8 601.0,200.5 601.0,203.4 584.7,206.7 564.8,203.1" fill="url(#tg)"/>
<polygon points="770.4,249.3 790.3,252.9 790.3,311.4 774.1,309.2 770.1,302.4" fill="url(#lg)"/>
<polygon points="790.3,252.9 806.6,249.6 806.6,308.2 790.3,311.4" fill="#b3800a"/>
<polygon points="769.9,245.7 783.0,242.3 803.5,243.0 806.6,246.7 806.6,249.6 790.3,252.9 770.4,249.3" fill="url(#tg)"/>
<polygon points="953.4,352.3 973.5,358.3 973.5,363.8 957,360 954,357.5" fill="url(#lg)"/>
<polygon points="973.5,358.3 989.1,354.4 989.1,359.9 973.5,363.8" fill="#b3800a"/>
<polygon points="953.4,351.9 961.9,347.3 984.5,346.9 989.1,351.5 989.1,354.4 973.5,358.3 953.6,353.2" fill="url(#tg)"/>
<g transform="translate(893.9,78.1) scale(1.0) translate(-13.9,-48.1)">
<path d="M38,35.5 C33,31 26,23.5 24,19.3 C22.8,23.5 25,31.5 31.5,37.5 Z" fill="#bccbc2" opacity=".92"/>
<path d="M40.3,34.6 C40,27.5 33,16 27.4,13.4 C25,17.5 27,28 33.8,36.8 Z" fill="#8fa299" opacity=".94"/>
<g stroke="#1d1a14" stroke-width="1.5" fill="none" stroke-linecap="round"><path d="M37,44.8 C33,48.5 28,56 24.8,60.8"/><path d="M24.8,49.8 C23.6,52 23.2,55 22.8,57.2"/><path d="M40.2,46 C39.2,50 37.2,53 35.8,54.6"/><path d="M42.5,46.5 C42.4,49 42.5,52 42.5,54.4"/><path d="M47.2,45.5 C48,48 48.6,50 49,52"/><path d="M53,38.4 C56,37.6 58,37.3 60.2,37.1" stroke-width=".9"/></g>
<path d="M13.9,48.1 C16,40.5 25,33.6 33,33.4 C37.2,33.4 38.6,40 36.6,45 C31,49.9 21,50.9 13.9,48.1 Z" fill="#f2b035"/>
<g fill="#1d1a14"><path d="M13.9,48.1 C14.8,45.2 16.4,43 18.2,41.3 L21.2,50.2 C18.4,49.9 15.8,49.1 13.9,48.1 Z"/><path d="M20.4,39.4 L23.3,37.5 L27.2,50 L24,50.5 Z"/><path d="M25.8,36 L28.8,34.6 L32.8,48.2 L30,49.4 Z"/><path d="M31.4,33.7 L34.2,33.5 L37.4,42.6 L35.6,46.2 Z"/></g>
<ellipse cx="42.2" cy="39.9" rx="6.8" ry="6" fill="#1f1c1a"/>
<ellipse cx="50.2" cy="40.8" rx="3.9" ry="5" fill="#1f1c1a"/>
<ellipse cx="51.6" cy="40.4" rx="1.5" ry="2.7" fill="#4a5a50"/>
</g>
<g transform="translate(757.2,118.9) scale(0.828) translate(-13.9,-48.1)">
<path d="M38,35.5 C33,31 26,23.5 24,19.3 C22.8,23.5 25,31.5 31.5,37.5 Z" fill="#bccbc2" opacity=".92"/>
<path d="M40.3,34.6 C40,27.5 33,16 27.4,13.4 C25,17.5 27,28 33.8,36.8 Z" fill="#8fa299" opacity=".94"/>
<g stroke="#1d1a14" stroke-width="1.5" fill="none" stroke-linecap="round"><path d="M37,44.8 C33,48.5 28,56 24.8,60.8"/><path d="M24.8,49.8 C23.6,52 23.2,55 22.8,57.2"/><path d="M40.2,46 C39.2,50 37.2,53 35.8,54.6"/><path d="M42.5,46.5 C42.4,49 42.5,52 42.5,54.4"/><path d="M47.2,45.5 C48,48 48.6,50 49,52"/><path d="M53,38.4 C56,37.6 58,37.3 60.2,37.1" stroke-width=".9"/></g>
<path d="M13.9,48.1 C16,40.5 25,33.6 33,33.4 C37.2,33.4 38.6,40 36.6,45 C31,49.9 21,50.9 13.9,48.1 Z" fill="#f2b035"/>
<g fill="#1d1a14"><path d="M13.9,48.1 C14.8,45.2 16.4,43 18.2,41.3 L21.2,50.2 C18.4,49.9 15.8,49.1 13.9,48.1 Z"/><path d="M20.4,39.4 L23.3,37.5 L27.2,50 L24,50.5 Z"/><path d="M25.8,36 L28.8,34.6 L32.8,48.2 L30,49.4 Z"/><path d="M31.4,33.7 L34.2,33.5 L37.4,42.6 L35.6,46.2 Z"/></g>
<ellipse cx="42.2" cy="39.9" rx="6.8" ry="6" fill="#1f1c1a"/>
<ellipse cx="50.2" cy="40.8" rx="3.9" ry="5" fill="#1f1c1a"/>
<ellipse cx="51.6" cy="40.4" rx="1.5" ry="2.7" fill="#4a5a50"/>
</g>
<g transform="translate(544.8,188) scale(0.72) translate(-13.9,-48.1)">
<path d="M38,35.5 C33,31 26,23.5 24,19.3 C22.8,23.5 25,31.5 31.5,37.5 Z" fill="#bccbc2" opacity=".92"/>
<path d="M40.3,34.6 C40,27.5 33,16 27.4,13.4 C25,17.5 27,28 33.8,36.8 Z" fill="#8fa299" opacity=".94"/>
<g stroke="#1d1a14" stroke-width="1.5" fill="none" stroke-linecap="round"><path d="M37,44.8 C33,48.5 28,56 24.8,60.8"/><path d="M24.8,49.8 C23.6,52 23.2,55 22.8,57.2"/><path d="M40.2,46 C39.2,50 37.2,53 35.8,54.6"/><path d="M42.5,46.5 C42.4,49 42.5,52 42.5,54.4"/><path d="M47.2,45.5 C48,48 48.6,50 49,52"/><path d="M53,38.4 C56,37.6 58,37.3 60.2,37.1" stroke-width=".9"/></g>
<path d="M13.9,48.1 C16,40.5 25,33.6 33,33.4 C37.2,33.4 38.6,40 36.6,45 C31,49.9 21,50.9 13.9,48.1 Z" fill="#f2b035"/>
<g fill="#1d1a14"><path d="M13.9,48.1 C14.8,45.2 16.4,43 18.2,41.3 L21.2,50.2 C18.4,49.9 15.8,49.1 13.9,48.1 Z"/><path d="M20.4,39.4 L23.3,37.5 L27.2,50 L24,50.5 Z"/><path d="M25.8,36 L28.8,34.6 L32.8,48.2 L30,49.4 Z"/><path d="M31.4,33.7 L34.2,33.5 L37.4,42.6 L35.6,46.2 Z"/></g>
<ellipse cx="42.2" cy="39.9" rx="6.8" ry="6" fill="#1f1c1a"/>
<ellipse cx="50.2" cy="40.8" rx="3.9" ry="5" fill="#1f1c1a"/>
<ellipse cx="51.6" cy="40.4" rx="1.5" ry="2.7" fill="#4a5a50"/>
</g>
<g transform="translate(769,232.5) scale(0.795) translate(-13.9,-48.1)">
<path d="M38,35.5 C33,31 26,23.5 24,19.3 C22.8,23.5 25,31.5 31.5,37.5 Z" fill="#bccbc2" opacity=".92"/>
<path d="M40.3,34.6 C40,27.5 33,16 27.4,13.4 C25,17.5 27,28 33.8,36.8 Z" fill="#8fa299" opacity=".94"/>
<g stroke="#1d1a14" stroke-width="1.5" fill="none" stroke-linecap="round"><path d="M37,44.8 C33,48.5 28,56 24.8,60.8"/><path d="M24.8,49.8 C23.6,52 23.2,55 22.8,57.2"/><path d="M40.2,46 C39.2,50 37.2,53 35.8,54.6"/><path d="M42.5,46.5 C42.4,49 42.5,52 42.5,54.4"/><path d="M47.2,45.5 C48,48 48.6,50 49,52"/><path d="M53,38.4 C56,37.6 58,37.3 60.2,37.1" stroke-width=".9"/></g>
<path d="M13.9,48.1 C16,40.5 25,33.6 33,33.4 C37.2,33.4 38.6,40 36.6,45 C31,49.9 21,50.9 13.9,48.1 Z" fill="#f2b035"/>
<g fill="#1d1a14"><path d="M13.9,48.1 C14.8,45.2 16.4,43 18.2,41.3 L21.2,50.2 C18.4,49.9 15.8,49.1 13.9,48.1 Z"/><path d="M20.4,39.4 L23.3,37.5 L27.2,50 L24,50.5 Z"/><path d="M25.8,36 L28.8,34.6 L32.8,48.2 L30,49.4 Z"/><path d="M31.4,33.7 L34.2,33.5 L37.4,42.6 L35.6,46.2 Z"/></g>
<ellipse cx="42.2" cy="39.9" rx="6.8" ry="6" fill="#1f1c1a"/>
<ellipse cx="50.2" cy="40.8" rx="3.9" ry="5" fill="#1f1c1a"/>
<ellipse cx="51.6" cy="40.4" rx="1.5" ry="2.7" fill="#4a5a50"/>
</g>
<g transform="translate(943.1,336.9) scale(0.68) translate(-13.9,-48.1)">
<path d="M38,35.5 C33,31 26,23.5 24,19.3 C22.8,23.5 25,31.5 31.5,37.5 Z" fill="#bccbc2" opacity=".92"/>
<path d="M40.3,34.6 C40,27.5 33,16 27.4,13.4 C25,17.5 27,28 33.8,36.8 Z" fill="#8fa299" opacity=".94"/>
<g stroke="#1d1a14" stroke-width="1.5" fill="none" stroke-linecap="round"><path d="M37,44.8 C33,48.5 28,56 24.8,60.8"/><path d="M24.8,49.8 C23.6,52 23.2,55 22.8,57.2"/><path d="M40.2,46 C39.2,50 37.2,53 35.8,54.6"/><path d="M42.5,46.5 C42.4,49 42.5,52 42.5,54.4"/><path d="M47.2,45.5 C48,48 48.6,50 49,52"/><path d="M53,38.4 C56,37.6 58,37.3 60.2,37.1" stroke-width=".9"/></g>
<path d="M13.9,48.1 C16,40.5 25,33.6 33,33.4 C37.2,33.4 38.6,40 36.6,45 C31,49.9 21,50.9 13.9,48.1 Z" fill="#f2b035"/>
<g fill="#1d1a14"><path d="M13.9,48.1 C14.8,45.2 16.4,43 18.2,41.3 L21.2,50.2 C18.4,49.9 15.8,49.1 13.9,48.1 Z"/><path d="M20.4,39.4 L23.3,37.5 L27.2,50 L24,50.5 Z"/><path d="M25.8,36 L28.8,34.6 L32.8,48.2 L30,49.4 Z"/><path d="M31.4,33.7 L34.2,33.5 L37.4,42.6 L35.6,46.2 Z"/></g>
<ellipse cx="42.2" cy="39.9" rx="6.8" ry="6" fill="#1f1c1a"/>
<ellipse cx="50.2" cy="40.8" rx="3.9" ry="5" fill="#1f1c1a"/>
<ellipse cx="51.6" cy="40.4" rx="1.5" ry="2.7" fill="#4a5a50"/>
</g>
<g>
<polygon points="146.5,242 194.5,242 201,256 201,272 192.5,286.5 148.5,286.5 141,272 141,256" fill="#17130c"/>
<defs><linearGradient id="hg" x1="0" y1="0" x2="0" y2="1"><stop offset="0" stop-color="#ffc552"/><stop offset=".5" stop-color="#f9b02e"/><stop offset="1" stop-color="#de8c10"/></linearGradient></defs>
<rect x="161.7" y="228.9" width="17.6" height="7.3" rx="3.6" fill="url(#hg)"/>
<rect x="150.1" y="235.0" width="40.7" height="8.8" rx="4.4" fill="url(#hg)"/>
<rect x="141.3" y="243.0" width="58.8" height="13.2" rx="6.6" fill="url(#hg)"/>
<rect x="136.2" y="255.4" width="68.5" height="16.8" rx="8.4" fill="url(#hg)"/>
<rect x="141.3" y="271.4" width="58.8" height="13.0" rx="6.5" fill="url(#hg)"/>
<rect x="151" y="283.6" width="39.4" height="10.5" rx="5.2" fill="url(#hg)"/>
<rect x="158.9" y="293.3" width="23.1" height="7.3" rx="3.7" fill="url(#hg)"/>
<ellipse cx="170.5" cy="264.1" rx="10.2" ry="10.8" fill="#0d0b07" transform="rotate(-12 170.5 264.1)"/>
<path d="M157.5,254 l2.6,1.8 M161.6,253 l-1.6,2.8 M169.4,275 l1,3 M172,274.8 l-1,3" stroke="#fff3c4" stroke-width="1.1" stroke-linecap="round"/>
</g>
<polygon points="810.1,1184.7 838.9,1184.7 857.7,1209.6 893.3,1165.3 911.2,1187.6 911.2,1221.3 893.3,1198.9 857.7,1245" fill="#12120d"/>
<polygon points="912.4,1157.1 929.9,1179.9 949.7,1154 978.9,1154 929.9,1213.9 912.4,1192.5" fill="#12120d"/>
</svg>
<header>
<h1 aria-label="Global Honey Bee Colonies"><span class="t" style="left:78.39px;top:139.92px;font-size:84.30px;font-weight:700;color:#0e0d0a;transform:scaleX(0.9379);letter-spacing:-1.69px;-webkit-text-stroke:1.4px #0e0d0a;">GLOBAL</span>
<span class="t" style="left:77.56px;top:223.22px;font-size:84.30px;font-weight:700;color:#0e0d0a;transform:scaleX(0.9717);-webkit-text-stroke:1.4px #0e0d0a;">H</span>
<span class="t" style="left:204.47px;top:223.22px;font-size:84.30px;font-weight:700;color:#0e0d0a;transform:scaleX(0.9686);letter-spacing:-1.69px;-webkit-text-stroke:1.4px #0e0d0a;">NEY</span>
<span class="t" style="left:392.91px;top:223.22px;font-size:84.30px;font-weight:700;color:#0e0d0a;transform:scaleX(0.8952);letter-spacing:-1.69px;-webkit-text-stroke:1.4px #0e0d0a;">BEE</span>
<span class="t" style="left:78.32px;top:306.62px;font-size:84.30px;font-weight:700;color:#0e0d0a;transform:scaleX(0.9740);letter-spacing:-1.69px;-webkit-text-stroke:1.4px #0e0d0a;">COLONIES</span></h1>
<p><span class="t" style="left:78.17px;top:416.44px;font-size:38.81px;font-weight:400;color:#0e0d0a;transform:scaleX(1.0312);">By continent, millions and %</span>
<span class="t" style="left:79.53px;top:461.04px;font-size:38.81px;font-weight:400;color:#0e0d0a;transform:scaleX(1.0465);">change since 1990 to 2024</span></p>
</header>
<section class="map"><span class="t" style="left:952.45px;top:88.49px;font-size:22.09px;font-weight:700;color:#0e0d0a;transform:scaleX(1.0129);-webkit-text-stroke:0.6px #0e0d0a;">ASIA</span>
<span class="t" style="left:810.64px;top:134.29px;font-size:22.09px;font-weight:700;color:#0e0d0a;transform:scaleX(0.9822);-webkit-text-stroke:0.6px #0e0d0a;">EUROPE</span>
<span class="t" style="left:811.66px;top:246.89px;font-size:22.09px;font-weight:700;color:#0e0d0a;transform:scaleX(0.9833);-webkit-text-stroke:0.6px #0e0d0a;">AFRICA</span>
<span class="t" style="left:606.65px;top:200.69px;font-size:22.09px;font-weight:700;color:#0e0d0a;transform:scaleX(1.0269);-webkit-text-stroke:0.6px #0e0d0a;">AMERICA</span>
<span class="t" style="left:929.70px;top:371.99px;font-size:22.09px;font-weight:700;color:#0e0d0a;transform:scaleX(1.0141);-webkit-text-stroke:0.6px #0e0d0a;">OCEANIA</span></section>
<section class="table">
<div class="thead"><span class="t" style="left:117.47px;top:587.96px;font-size:22.97px;font-weight:400;color:#3b3e36;transform:scaleX(0.9586);">CONTINENT</span>
<span class="t" style="left:511.55px;top:587.96px;font-size:22.97px;font-weight:400;color:#3b3e36;transform:scaleX(1.0720);">2024</span>
<span class="t" style="left:833.05px;top:587.96px;font-size:22.97px;font-weight:400;color:#3b3e36;transform:scaleX(0.9749);">CHANGE</span>
<span class="t" style="left:936.03px;top:587.96px;font-size:22.97px;font-weight:400;color:#15150f;transform:scaleX(0.8998);">(%)</span></div>
<div class="tr"><div class="row" style="top:621.7px;background:#68a01c"></div>
<span class="t" style="left:123.19px;top:645.19px;font-size:29.65px;font-weight:700;color:#0e0d0a;transform:scaleX(0.9601);-webkit-text-stroke:0.7px #0e0d0a;">ASIA</span>
<span class="t" style="left:503.47px;top:645.19px;font-size:29.65px;font-weight:700;color:#0e0d0a;transform:scaleX(1.0444);-webkit-text-stroke:0.7px #0e0d0a;">45.2M</span>
<span class="t" style="left:847.71px;top:645.19px;font-size:29.65px;font-weight:700;color:#0e0d0a;transform:scaleX(1.0184);-webkit-text-stroke:0.7px #0e0d0a;">+95.2%</span>
</div>
<div class="tr"><div class="row" style="top:704.1px;background:#82b041"></div>
<span class="t" style="left:122.09px;top:727.59px;font-size:29.65px;font-weight:700;color:#0e0d0a;transform:scaleX(0.9393);-webkit-text-stroke:0.7px #0e0d0a;">EUROPE</span>
<span class="t" style="left:502.49px;top:727.59px;font-size:29.65px;font-weight:700;color:#0e0d0a;transform:scaleX(1.0564);-webkit-text-stroke:0.7px #0e0d0a;">25.4M</span>
<span class="t" style="left:847.75px;top:727.59px;font-size:29.65px;font-weight:700;color:#0e0d0a;transform:scaleX(0.9598);-webkit-text-stroke:0.7px #0e0d0a;">+13.2%</span>
</div>
<div class="tr"><div class="row" style="top:786.5px;background:#98c068"></div>
<span class="t" style="left:123.09px;top:809.99px;font-size:29.65px;font-weight:700;color:#0e0d0a;transform:scaleX(0.9528);-webkit-text-stroke:0.7px #0e0d0a;">AFRICA</span>
<span class="t" style="left:501.60px;top:809.99px;font-size:29.65px;font-weight:700;color:#0e0d0a;transform:scaleX(0.9972);-webkit-text-stroke:0.7px #0e0d0a;">18.5M</span>
<span class="t" style="left:847.74px;top:809.99px;font-size:29.65px;font-weight:700;color:#0e0d0a;transform:scaleX(0.9797);-webkit-text-stroke:0.7px #0e0d0a;">+37.8%</span>
</div>
<div class="tr"><div class="row" style="top:868.9px;background:#afd28c"></div>
<span class="t" style="left:123.09px;top:893.39px;font-size:29.65px;font-weight:700;color:#0e0d0a;transform:scaleX(0.9714);-webkit-text-stroke:0.7px #0e0d0a;">AMERICA</span>
<span class="t" style="left:501.65px;top:893.39px;font-size:29.65px;font-weight:700;color:#0e0d0a;transform:scaleX(0.9646);letter-spacing:-0.81px;-webkit-text-stroke:0.7px #0e0d0a;">11.6M</span>
<span class="t" style="left:847.71px;top:893.39px;font-size:29.65px;font-weight:700;color:#0e0d0a;transform:scaleX(1.0273);-webkit-text-stroke:0.7px #0e0d0a;">+20.0%</span>
</div>
<div class="tr"><div class="row" style="top:951.4px;background:#c6e1b2"></div>
<span class="t" style="left:123.14px;top:975.89px;font-size:29.65px;font-weight:700;color:#0e0d0a;transform:scaleX(0.9739);-webkit-text-stroke:0.7px #0e0d0a;">OCEANIA</span>
<span class="t" style="left:501.72px;top:975.89px;font-size:29.65px;font-weight:700;color:#0e0d0a;transform:scaleX(0.9201);letter-spacing:-1.88px;-webkit-text-stroke:0.7px #0e0d0a;">1.1M</span>
<span class="t" style="left:847.71px;top:975.89px;font-size:29.65px;font-weight:700;color:#0e0d0a;transform:scaleX(1.0184);-webkit-text-stroke:0.7px #0e0d0a;">+44.7%</span>
</div>
<div class="tr"><div class="row" style="top:1033.5px;height:52px;background:#ff8a0a"></div>
<span class="t" style="left:109.14px;top:1045.69px;font-size:29.07px;font-weight:700;color:#0e0d0a;transform:scaleX(0.9662);-webkit-text-stroke:0.7px #0e0d0a;">WORLD TOTAL</span>
<span class="t" style="left:512.30px;top:1045.69px;font-size:29.07px;font-weight:700;color:#0e0d0a;transform:scaleX(0.9566);letter-spacing:-0.89px;-webkit-text-stroke:0.7px #0e0d0a;">101.7</span>
<span class="t" style="left:842.08px;top:1045.32px;font-size:29.51px;font-weight:400;color:#0e0d0a;transform:scaleX(1.0981);">+</span>
<span class="t" style="left:862.18px;top:1045.69px;font-size:29.07px;font-weight:700;color:#0e0d0a;transform:scaleX(1.0998);-webkit-text-stroke:0.7px #0e0d0a;">46.6</span>
<span class="t" style="left:924.23px;top:1045.32px;font-size:29.51px;font-weight:400;color:#0e0d0a;transform:scaleX(0.8349);">%</span>
</div>
</section>
<footer><span class="t" style="left:113.15px;top:1239.26px;font-size:15.41px;font-weight:400;color:#667860;transform:scaleX(0.9431);">Source: FAO</span>
<div class="logo"><span class="t" style="left:910.40px;top:1227.52px;font-size:14.97px;font-weight:700;color:#14140f;transform:scaleX(0.9960);">WORLD</span>
<span class="t" style="left:910.40px;top:1242.92px;font-size:14.97px;font-weight:700;color:#14140f;transform:scaleX(1.0160);">VISUALIZED</span>
<span class="t" style="left:983.50px;top:1153.84px;font-size:6.69px;font-weight:700;color:#14140f;transform:scaleX(1.2355);">TM</span></div>
</footer>
</body></html>
